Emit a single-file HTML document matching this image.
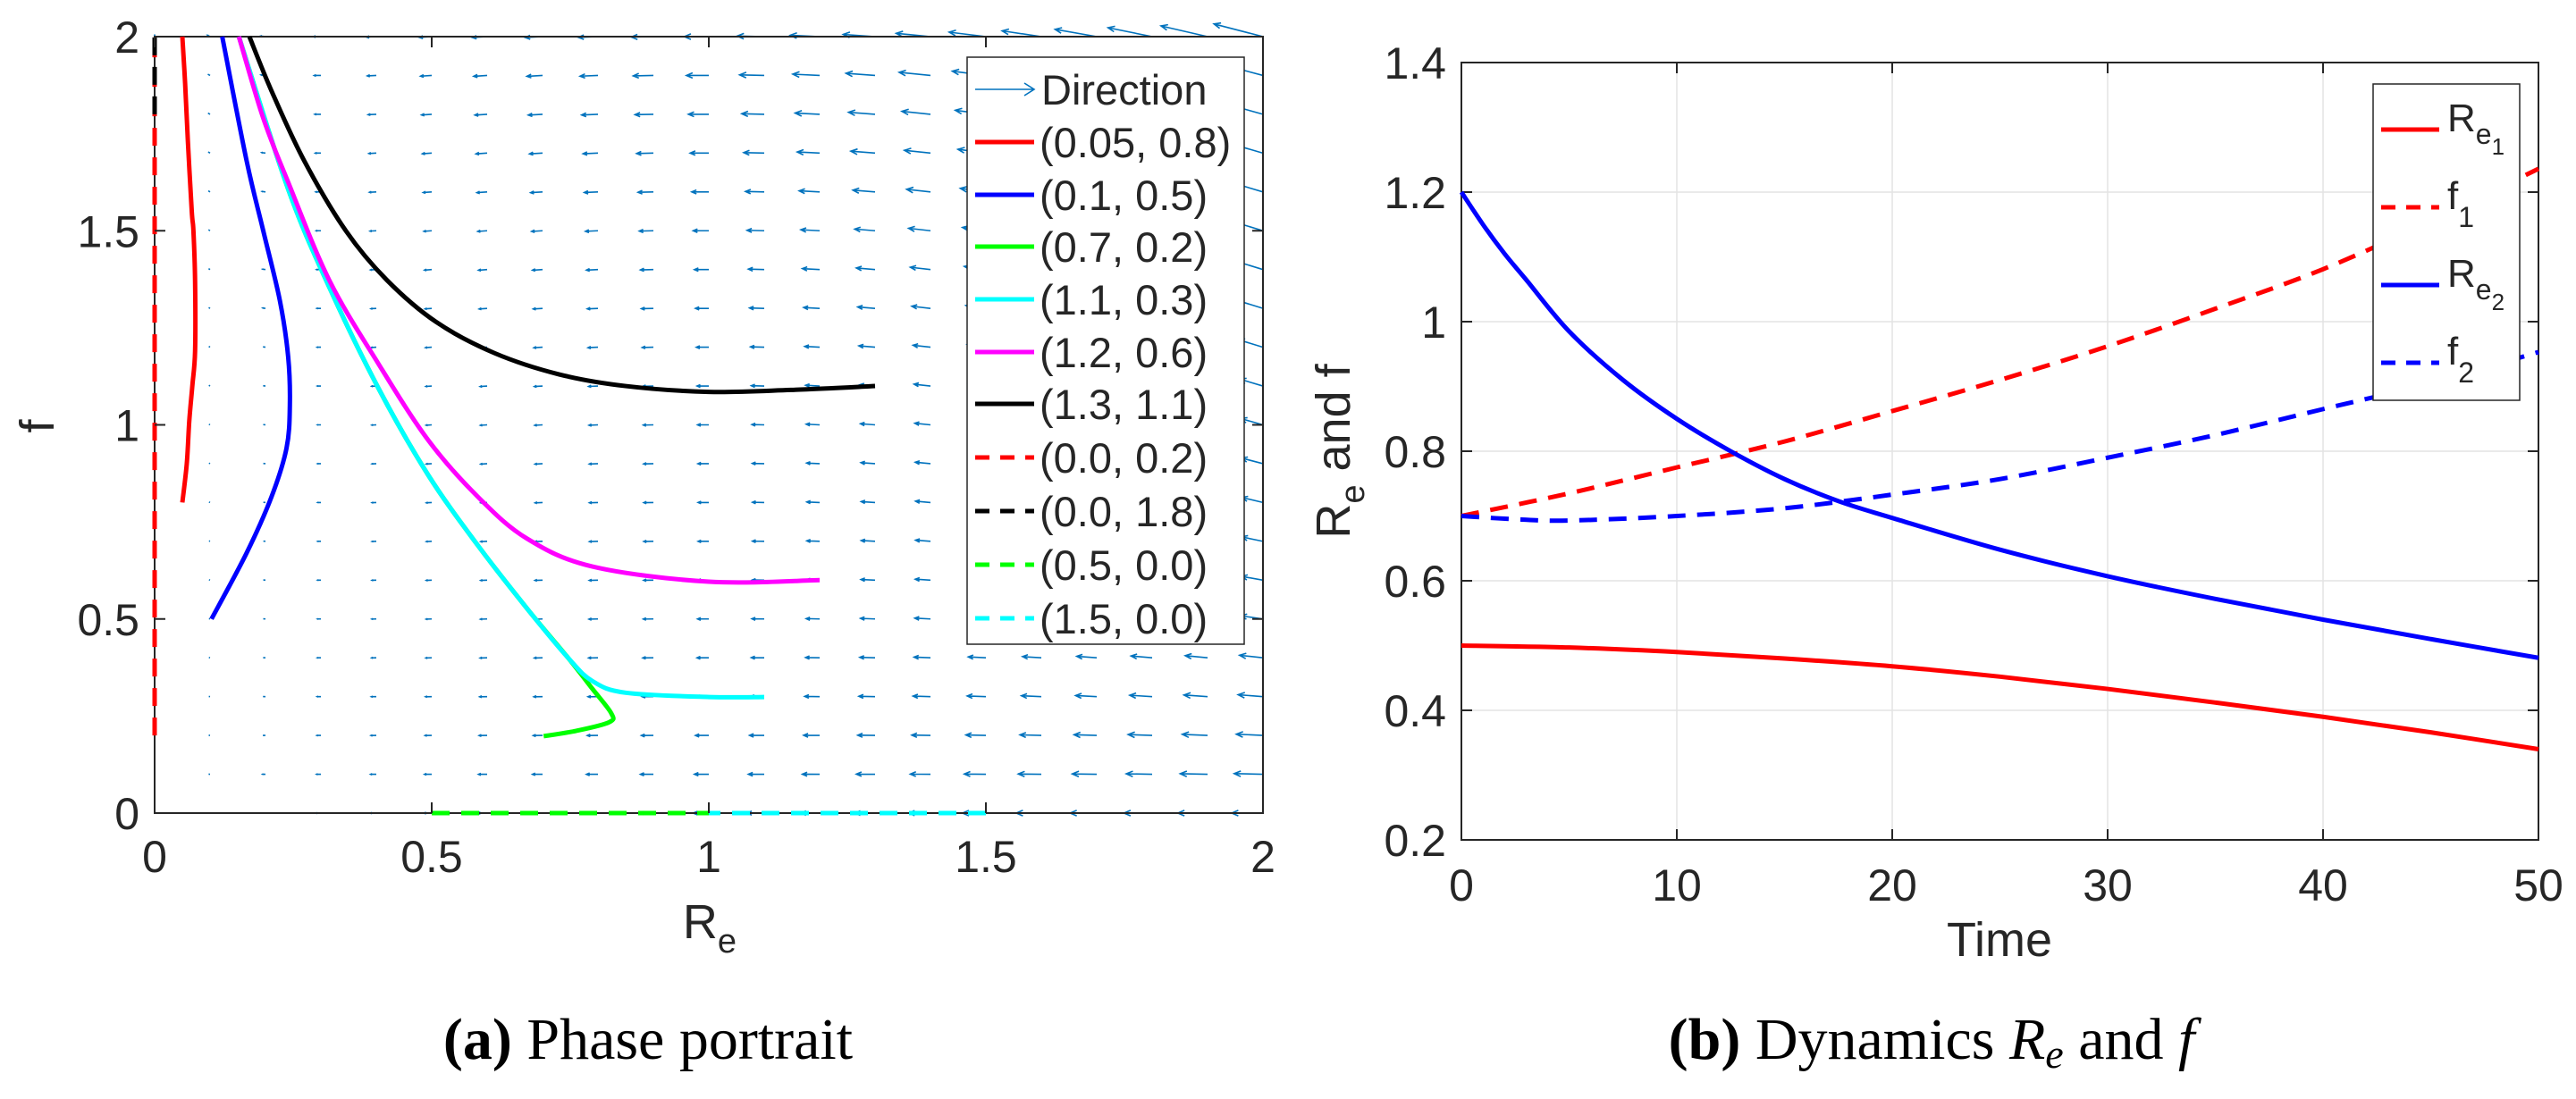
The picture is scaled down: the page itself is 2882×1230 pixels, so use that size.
<!DOCTYPE html>
<html><head><meta charset="utf-8"><style>
html,body{margin:0;padding:0;background:#fff;}
svg{display:block;}
text{font-family:"Liberation Sans",sans-serif;fill:#262626;}
.cap{font-family:"Liberation Serif",serif;fill:#000;}
</style></head><body>
<svg id="fig" width="2882" height="1230" viewBox="0 0 2882 1230" xmlns="http://www.w3.org/2000/svg">
<g id="left"></g>
<g id="right"></g>
<text class="cap" x="725" y="1185" font-size="66" text-anchor="middle"><tspan font-weight="bold">(a)</tspan> Phase portrait</text>
<text class="cap" x="2161" y="1185" font-size="66" text-anchor="middle"><tspan font-weight="bold">(b)</tspan> Dynamics <tspan font-style="italic">R</tspan><tspan font-style="italic" font-size="46" dy="10">e</tspan><tspan dy="-10"> and </tspan><tspan font-style="italic">f</tspan></text>
</svg>
<script>
// ---------- Left chart data ----------
const leftXTicks = [0, 0.5, 1, 1.5, 2];
const leftYTicks = [0, 0.5, 1, 1.5, 2];
const leftXTickLabels = ["0", "0.5", "1", "1.5", "2"];
const leftYTickLabels = ["0", "0.5", "1", "1.5", "2"];
const trajLabels = ["(0.05, 0.8)", "(0.1, 0.5)", "(0.7, 0.2)", "(1.1, 0.3)", "(1.2, 0.6)", "(1.3, 1.1)", "(0.0, 0.2)", "(0.0, 1.8)", "(0.5, 0.0)", "(1.5, 0.0)"];
const trajColors = ["#ff0000", "#0000ff", "#00ff00", "#00ffff", "#ff00ff", "#000000", "#ff0000", "#000000", "#00ff00", "#00ffff"];
const trajDashed = [false, false, false, false, false, false, true, true, true, true];
const redRe = [0.05, 0.058, 0.0625, 0.068, 0.073, 0.073, 0.07, 0.067, 0.06, 0.055, 0.05];
const redF = [0.8, 0.9, 1.01, 1.1, 1.19, 1.37, 1.5, 1.55, 1.73, 1.88, 2.0];
const blueRe = [0.1026, 0.166, 0.211, 0.238, 0.244, 0.241, 0.226, 0.196, 0.166, 0.122];
const blueF = [0.5, 0.67, 0.815, 0.94, 1.05, 1.175, 1.32, 1.5, 1.68, 2.0];
const greenRe = [0.702, 0.761, 0.82, 0.824, 0.79, 0.746, 0.672, 0.583, 0.494, 0.404, 0.315, 0.241, 0.152];
const greenF = [0.198, 0.212, 0.234, 0.257, 0.32, 0.40, 0.527, 0.69, 0.87, 1.094, 1.355, 1.607, 2.0];
const cyanRe = [1.1, 1.0, 0.85, 0.79, 0.746, 0.672, 0.583, 0.494, 0.404, 0.315, 0.241, 0.152];
const cyanF = [0.299, 0.299, 0.31, 0.34, 0.40, 0.527, 0.69, 0.87, 1.094, 1.355, 1.607, 2.0];
const magRe = [1.2, 1.0, 0.79, 0.672, 0.583, 0.494, 0.404, 0.315, 0.241, 0.196, 0.152];
const magF = [0.6, 0.596, 0.635, 0.707, 0.815, 0.96, 1.157, 1.373, 1.625, 1.79, 2.0];
const blackRe = [1.3, 1.148, 1.0, 0.85, 0.73, 0.613, 0.508, 0.419, 0.345, 0.27, 0.211, 0.171];
const blackF = [1.1, 1.09, 1.085, 1.1, 1.13, 1.185, 1.265, 1.373, 1.5, 1.68, 1.86, 2.0];
const redDashRe = [0, 0];
const redDashF = [0.2, 2.0];
const blackDashRe = [0, 0];
const blackDashF = [1.8, 2.0];
const greenDashRe = [0.5, 1.0];
const greenDashF = [0, 0];
const cyanDashRe = [1.5, 1.0];
const cyanDashF = [0, 0];
// quiver grid values
const gridRe = [0,0.1,0.2,0.3,0.4,0.5,0.6,0.7,0.8,0.9,1.0,1.1,1.2,1.3,1.4,1.5,1.6,1.7,1.8,1.9,2.0];
const gridF = [0,0.1,0.2,0.3,0.4,0.5,0.6,0.7,0.8,0.9,1.0,1.1,1.2,1.3,1.4,1.5,1.6,1.7,1.8,1.9,2.0];

// ---------- Right chart data ----------
const timeTicks = [0, 10, 20, 30, 40, 50];
const timeTickLabels = ["0", "10", "20", "30", "40", "50"];
const valTicks = [0.2, 0.4, 0.6, 0.8, 1.0, 1.2, 1.4];
const valTickLabels = ["0.2", "0.4", "0.6", "0.8", "1", "1.2", "1.4"];
const tRe1 = [0, 5, 10, 15, 20, 25, 30, 35, 40, 45, 50];
const re1 = [0.5, 0.497, 0.49, 0.48, 0.468, 0.452, 0.433, 0.412, 0.39, 0.366, 0.34];
const tF1 = [0, 5, 10, 15, 20, 25, 30, 35, 40, 45, 50];
const f1 = [0.70, 0.735, 0.775, 0.815, 0.862, 0.91, 0.962, 1.02, 1.081, 1.155, 1.236];
const tRe2 = [0, 1, 2, 3, 5, 7.5, 10, 12.5, 15, 17.5, 20, 25, 30, 35, 40, 45, 50];
const re2 = [1.2, 1.15, 1.105, 1.065, 0.985, 0.91, 0.85, 0.80, 0.757, 0.723, 0.697, 0.648, 0.607, 0.572, 0.54, 0.51, 0.481];
const tF2 = [0, 2.5, 5, 10, 15, 20, 25, 30, 35, 40, 45, 50];
const f2 = [0.70, 0.695, 0.693, 0.70, 0.712, 0.733, 0.757, 0.79, 0.825, 0.865, 0.905, 0.953];

const NS = "http://www.w3.org/2000/svg";
function mk(parent, tag, attrs) {
  const e = document.createElementNS(NS, tag);
  for (const k in attrs) e.setAttribute(k, attrs[k]);
  parent.appendChild(e);
  return e;
}
function smoothPath(P) {
  if (P.length < 3) return "M" + P.map(p => p[0] + "," + p[1]).join("L");
  let d = "M" + P[0][0] + "," + P[0][1];
  for (let i = 0; i < P.length - 1; i++) {
    const p0 = P[Math.max(0, i - 1)], p1 = P[i], p2 = P[i + 1], p3 = P[Math.min(P.length - 1, i + 2)];
    const c1 = [p1[0] + (p2[0] - p0[0]) / 6, p1[1] + (p2[1] - p0[1]) / 6];
    const c2 = [p2[0] - (p3[0] - p1[0]) / 6, p2[1] - (p3[1] - p1[1]) / 6];
    d += "C" + c1[0] + "," + c1[1] + " " + c2[0] + "," + c2[1] + " " + p2[0] + "," + p2[1];
  }
  return d;
}

// ===== Left chart =====
(function(){
  const g = document.getElementById("left");
  const L = 173, R = 1413, T = 41, B = 910;
  const sx = v => L + (v - 0) / 2 * (R - L);
  const sy = v => B - (v - 0) / 2 * (B - T);

  const q = mk(g, "g", {});
  
  
  gridF.forEach(f => {
    gridRe.forEach(r => {
      const u = -r * (0.6 + 0.5 * (f - 0.75) * (f - 0.75));
      const v = 0.3 * f * (0.3 - r) * (1 - r);
      const sc = 0.032;
      const x0 = sx(r), y0 = sy(f);
      const x1 = sx(r + u * sc), y1 = sy(f + v * sc);
      const len = Math.hypot(x1 - x0, y1 - y0);
      let dd = "M" + x0 + "," + y0 + "L" + x1 + "," + y1;
      if (len > 3) {
        const ang = Math.atan2(y1 - y0, x1 - x0), h = Math.min(8, len * 0.3);
        dd += "M" + (x1 - h * Math.cos(ang - 0.4)) + "," + (y1 - h * Math.sin(ang - 0.4)) + "L" + x1 + "," + y1 + "L" + (x1 - h * Math.cos(ang + 0.4)) + "," + (y1 - h * Math.sin(ang + 0.4));
      }
      const a = mk(q, "path", {d: dd, stroke: "#0072bd", "stroke-width": 1.6, fill: "none"});
      
      
    });
  });

  const box = mk(g, "rect", {x: L, y: T, width: R - L, height: B - T, fill: "none", stroke: "#262626", "stroke-width": 2});
  
  

  const series = [[redRe, redF], [blueRe, blueF], [greenRe, greenF], [cyanRe, cyanF], [magRe, magF], [blackRe, blackF], [redDashRe, redDashF], [blackDashRe, blackDashF], [greenDashRe, greenDashF], [cyanDashRe, cyanDashF]];
  const tnames = ["trajectory-0.05-0.8", "trajectory-0.1-0.5", "trajectory-0.7-0.2", "trajectory-1.1-0.3", "trajectory-1.2-0.6", "trajectory-1.3-1.1", "trajectory-0.0-0.2", "trajectory-0.0-1.8", "trajectory-0.5-0.0", "trajectory-1.5-0.0"];
  series.forEach((s, i) => {
    const P = s[0].map((x, j) => [sx(x), sy(s[1][j])]);
    const p = mk(g, "path", {d: smoothPath(P), fill: "none", stroke: trajColors[i], "stroke-width": 5, "stroke-linejoin": "round"});
    if (trajDashed[i]) p.setAttribute("stroke-dasharray", "20,13");
    
    
  });

  leftXTicks.forEach((t, i) => {
    const x = sx(t);
    mk(g, "line", {x1: x, y1: B, x2: x, y2: B - 12, stroke: "#262626", "stroke-width": 2});
    mk(g, "line", {x1: x, y1: T, x2: x, y2: T + 12, stroke: "#262626", "stroke-width": 2});
    const tx = mk(g, "text", {x: x, y: 976, "font-size": 50, "text-anchor": "middle"});
    tx.textContent = leftXTickLabels[i];
    
    
  });
  leftYTicks.forEach((t, i) => {
    const y = sy(t);
    mk(g, "line", {x1: L, y1: y, x2: L + 12, y2: y, stroke: "#262626", "stroke-width": 2});
    mk(g, "line", {x1: R, y1: y, x2: R - 12, y2: y, stroke: "#262626", "stroke-width": 2});
    const tx = mk(g, "text", {x: 156, y: y + 18, "font-size": 50, "text-anchor": "end"});
    tx.textContent = leftYTickLabels[i];
    
    
  });
  const xl = mk(g, "text", {x: 794, y: 1050, "font-size": 54, "text-anchor": "middle"});
  xl.innerHTML = 'R<tspan font-size="38" dy="16">e</tspan>';
  
  
  const yl = mk(g, "text", {x: 60, y: 477, "font-size": 54, "text-anchor": "middle", transform: "rotate(-90 60 477)"});
  yl.textContent = "f";
  
  

  const lg = mk(g, "g", {});
  
  
  mk(lg, "rect", {x: 1082, y: 64, width: 310, height: 657, fill: "#fff", stroke: "#262626", "stroke-width": 1.5});
  const rowY = [100, 159, 218, 276, 335, 394, 452, 512, 572, 632, 692];
  const d = mk(lg, "path", {d: "M1091,100L1157,100M1146,93L1157,100L1146,107", stroke: "#0072bd", "stroke-width": 1.6, fill: "none"});
  
  
  const dt = mk(lg, "text", {x: 1165, y: 117, "font-size": 47});
  dt.textContent = "Direction";
  
  
  trajLabels.forEach((lab, i) => {
    const y = rowY[i + 1];
    const ln = mk(lg, "line", {x1: 1091, y1: y, x2: 1157, y2: y, stroke: trajColors[i], "stroke-width": 5});
    if (trajDashed[i]) ln.setAttribute("stroke-dasharray", "16,12");
    
    
    const t = mk(lg, "text", {x: 1163, y: y + 17, "font-size": 47});
    t.textContent = lab;
    
    
  });
})();

// ===== Right chart =====
(function(){
  const g = document.getElementById("right");
  const L = 1635, R = 2840, T = 70, B = 940;
  const sx = v => L + v / 50 * (R - L);
  const sy = v => B - (v - 0.2) / 1.2 * (B - T);

  timeTicks.forEach(t => {
    const gl = mk(g, "line", {x1: sx(t), y1: T, x2: sx(t), y2: B, stroke: "#e3e3e3", "stroke-width": 1.5});
    
    
  });
  valTicks.forEach(t => {
    const gl = mk(g, "line", {x1: L, y1: sy(t), x2: R, y2: sy(t), stroke: "#e3e3e3", "stroke-width": 1.5});
    
    
  });
  const box = mk(g, "rect", {x: L, y: T, width: R - L, height: B - T, fill: "none", stroke: "#262626", "stroke-width": 2});
  
  

  timeTicks.forEach((t, i) => {
    const x = sx(t);
    mk(g, "line", {x1: x, y1: B, x2: x, y2: B - 12, stroke: "#262626", "stroke-width": 2});
    mk(g, "line", {x1: x, y1: T, x2: x, y2: T + 12, stroke: "#262626", "stroke-width": 2});
    const tx = mk(g, "text", {x: x, y: 1008, "font-size": 50, "text-anchor": "middle"});
    tx.textContent = timeTickLabels[i];
    
    
  });
  valTicks.forEach((t, i) => {
    const y = sy(t);
    mk(g, "line", {x1: L, y1: y, x2: L + 12, y2: y, stroke: "#262626", "stroke-width": 2});
    mk(g, "line", {x1: R, y1: y, x2: R - 12, y2: y, stroke: "#262626", "stroke-width": 2});
    const tx = mk(g, "text", {x: 1618, y: y + 18, "font-size": 50, "text-anchor": "end"});
    tx.textContent = valTickLabels[i];
    
    
  });

  const sers = [[tRe1, re1, "#ff0000", false, "re1-line"], [tF1, f1, "#ff0000", true, "f1-line"], [tRe2, re2, "#0000ff", false, "re2-line"], [tF2, f2, "#0000ff", true, "f2-line"]];
  sers.forEach(s => {
    const P = s[0].map((t, j) => [sx(t), sy(s[1][j])]);
    const p = mk(g, "path", {d: smoothPath(P), fill: "none", stroke: s[2], "stroke-width": 5, "stroke-linejoin": "round"});
    if (s[3]) p.setAttribute("stroke-dasharray", "20,13");
    
    
  });

  const xl = mk(g, "text", {x: 2237, y: 1070, "font-size": 54, "text-anchor": "middle"});
  xl.textContent = "Time";
  
  
  const yl = mk(g, "text", {x: 1510, y: 505, "font-size": 54, "text-anchor": "middle", transform: "rotate(-90 1510 505)"});
  yl.innerHTML = 'R<tspan font-size="38" dy="16">e</tspan><tspan dy="-16"> and f</tspan>';
  
  

  const lg = mk(g, "g", {});
  
  
  mk(lg, "rect", {x: 2655, y: 94, width: 164, height: 354, fill: "#fff", stroke: "#262626", "stroke-width": 1.5});
  const ly = [145, 232, 319, 406];
  const labs = [["R", "e", "1"], ["f", "", "1"], ["R", "e", "2"], ["f", "", "2"]];
  sers.forEach((s, i) => {
    const ln = mk(lg, "line", {x1: 2664, y1: ly[i], x2: 2729, y2: ly[i], stroke: s[2], "stroke-width": 5});
    if (s[3]) ln.setAttribute("stroke-dasharray", "16,12");
    
    
    const t = mk(lg, "text", {x: 2738, y: ly[i] + 2, "font-size": 44});
    const lb = labs[i];
    if (lb[1]) t.innerHTML = lb[0] + '<tspan font-size="32" dy="14">' + lb[1] + '</tspan><tspan font-size="26" dy="12">' + lb[2] + '</tspan>';
    else t.innerHTML = lb[0] + '<tspan font-size="32" dy="20">' + lb[2] + '</tspan>';
    
    
  });
})();
</script>
</body></html>
